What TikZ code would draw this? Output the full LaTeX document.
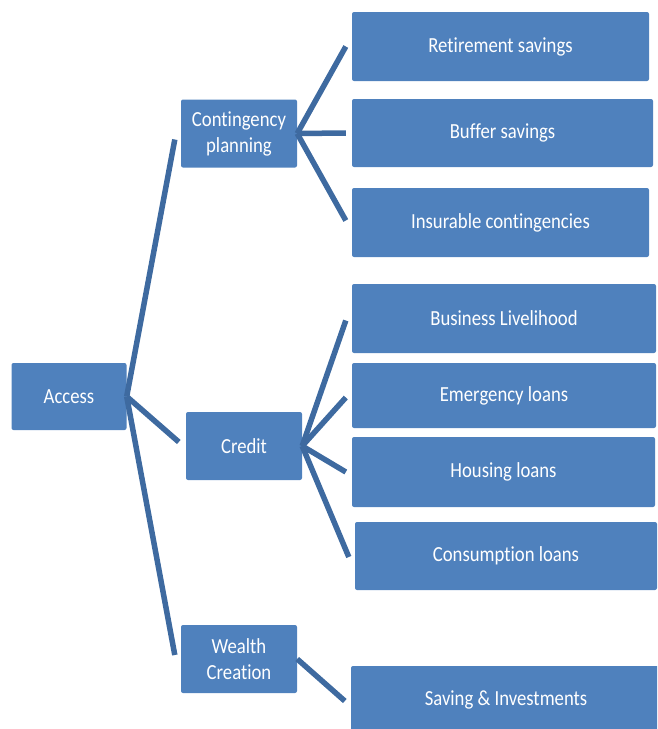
\documentclass[tikz,border=0pt]{standalone}
\usepackage{fontspec}
\setmainfont{Carlito}[FakeStretch=0.87, Ligatures=NoCommon]
\usetikzlibrary{calc}
\definecolor{boxblue}{RGB}{79,129,189}
\definecolor{linkblue}{RGB}{62,106,160}
\tikzset{
  box/.style={fill=boxblue, draw=none, rounded corners=2pt, text=white,
    align=center, inner sep=0pt, font=\fontsize{21.5}{26}\selectfont},
  link/.style={draw=linkblue, line width=5.5pt},
}
\begin{document}
\begin{tikzpicture}[x=1pt,y=-1pt]
\useasboundingbox (0,0) rectangle (657,729);
\clip (0,0) rectangle (657,729);
% level 1
\node[box, minimum width=115pt, minimum height=67pt] (access) at (69,396.5) {Access};
% level 2
\node[box, minimum width=116pt, minimum height=68pt] (cont) at (239,133.5) {Contingency\\planning};
\node[box, minimum width=116pt, minimum height=68pt] (credit) at (244,446) {Credit};
\node[box, minimum width=116pt, minimum height=68pt] (wealth) at (239,659) {Wealth\\Creation};
% level 3
\node[box, minimum width=297pt, minimum height=69pt] (ret) at (500.5,46.5) {Retirement savings};
\node[box, minimum width=301pt, minimum height=68pt] (buf) at (502.5,133) {Buffer savings};
\node[box, minimum width=297pt, minimum height=69pt] (ins) at (500.5,222.5) {Insurable contingencies};
\node[box, minimum width=304pt, minimum height=69pt] (bus) at (504,318.5) {Business Livelihood};
\node[box, minimum width=304pt, minimum height=65pt] (emg) at (504,395.5) {Emergency loans};
\node[box, minimum width=303pt, minimum height=70pt] (hou) at (503.5,472) {Housing loans};
\node[box, minimum width=302pt, minimum height=68pt] (con) at (506,556) {Consumption loans};
\node[box, minimum width=310pt, minimum height=68pt] (sav) at (506,700) {Saving \& Investments};
% connectors
\draw[link] (access.east) -- ($(cont.west)+(-6,6)$);
\draw[link] (access.east) -- ($(credit.west)+(-7,-4)$);
\draw[link] (access.east) -- ($(wealth.west)+(-6,-4)$);
\draw[link] (cont.east) -- ($(ret.west)+(-6,0)$);
\draw[link] (cont.east) -- ($(buf.west)+(-6,0)$);
\draw[link] (cont.east) -- ($(ins.west)+(-6,-2)$);
\draw[link] (credit.east) -- ($(bus.west)+(-6,2)$);
\draw[link] (credit.east) -- ($(emg.west)+(-6,2)$);
\draw[link] (credit.east) -- ($(hou.west)+(-6,0)$);
\draw[link] (credit.east) -- ($(con.west)+(-6,1)$);
\draw[link] (wealth.east) -- ($(sav.west)+(-6,1)$);
\end{tikzpicture}
\end{document}
